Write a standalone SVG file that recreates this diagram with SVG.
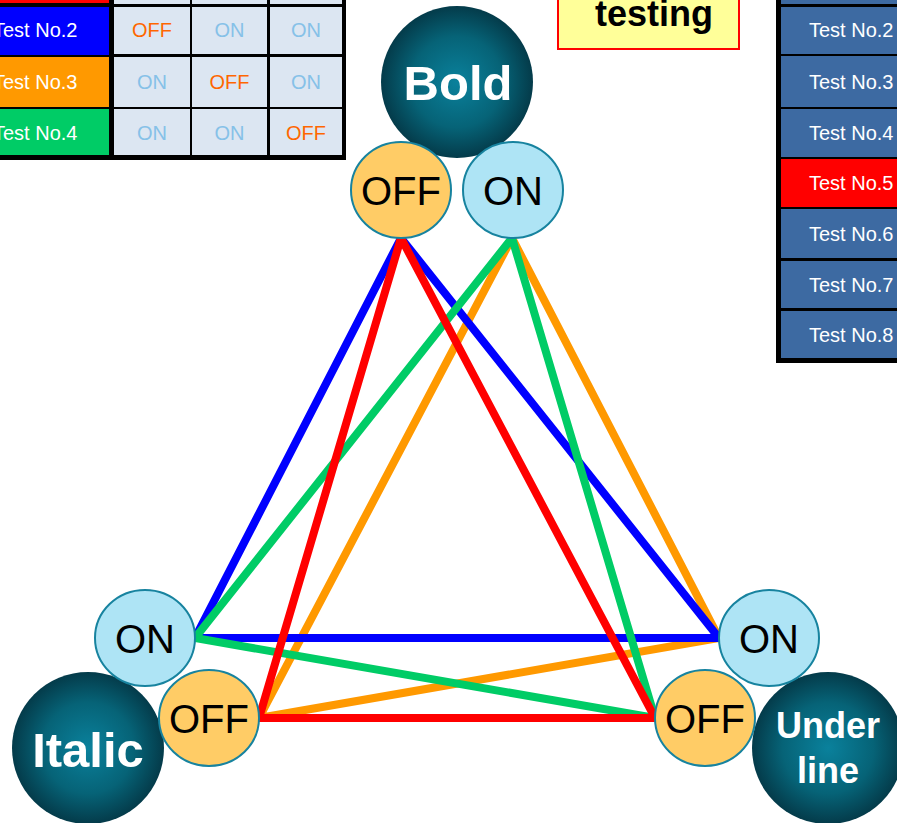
<svg xmlns="http://www.w3.org/2000/svg" width="897" height="823" viewBox="0 0 897 823">
<defs>
<radialGradient id="ball" cx="50%" cy="50%" r="50%">
<stop offset="0%" stop-color="#0a819c"/>
<stop offset="60%" stop-color="#066377"/>
<stop offset="100%" stop-color="#043b4a"/>
</radialGradient>
<style>
.t{font-family:"Liberation Sans",Arial,sans-serif;font-size:20px}
.w{fill:#ffffff}
.off{fill:#ff6600;text-anchor:middle}
.on{fill:#86c1e8;text-anchor:middle}
.cell{fill:#dce6f2}
.rc{fill:#3d6aa2}
.ball{fill:url(#ball)}
.bt{font-family:"Liberation Sans",Arial,sans-serif;font-weight:bold;fill:#ffffff;text-anchor:middle}
.offn{fill:#ffcc66;stroke:#17839f;stroke-width:2}
.onn{fill:#aee4f5;stroke:#17839f;stroke-width:2}
.nt{font-family:"Liberation Sans",Arial,sans-serif;font-size:40px;fill:#000000;text-anchor:middle}
.ln{fill:none;stroke-width:8;stroke-linejoin:miter}
</style>
</defs>
<rect width="897" height="823" fill="#ffffff"/>

<g id="left-table">
<rect x="-50" y="-60" width="396" height="220" fill="#000000"/>
<rect x="-40" y="-45" width="149" height="48" fill="#ff0000"/>
<rect x="-40" y="7" width="149" height="48" fill="#0000ff"/>
<rect x="-40" y="57" width="149" height="50" fill="#ff9900"/>
<rect x="-40" y="109" width="149" height="46" fill="#00cc66"/>
<rect class="cell" x="114" y="-44" width="76" height="48"/>
<rect class="cell" x="192" y="-44" width="75" height="48"/>
<rect class="cell" x="270" y="-44" width="72" height="48"/>
<rect class="cell" x="114" y="7" width="76" height="47"/>
<rect class="cell" x="192" y="7" width="75" height="47"/>
<rect class="cell" x="270" y="7" width="72" height="47"/>
<rect class="cell" x="114" y="57" width="76" height="50"/>
<rect class="cell" x="192" y="57" width="75" height="50"/>
<rect class="cell" x="270" y="57" width="72" height="50"/>
<rect class="cell" x="114" y="109" width="76" height="46"/>
<rect class="cell" x="192" y="109" width="75" height="46"/>
<rect class="cell" x="270" y="109" width="72" height="46"/>
<text class="t w" x="-7" y="37">Test No.2</text>
<text class="t w" x="-7" y="89">Test No.3</text>
<text class="t w" x="-7" y="140">Test No.4</text>
<text class="t off" x="152" y="37">OFF</text>
<text class="t on" x="229.5" y="37">ON</text>
<text class="t on" x="306" y="37">ON</text>
<text class="t on" x="152" y="89">ON</text>
<text class="t off" x="229.5" y="89">OFF</text>
<text class="t on" x="306" y="89">ON</text>
<text class="t on" x="152" y="140">ON</text>
<text class="t on" x="229.5" y="140">ON</text>
<text class="t off" x="306" y="140">OFF</text>
</g>

<g id="title-box">
<rect x="558" y="-40" width="181" height="89" fill="#ffff99" stroke="#ff0000" stroke-width="2"/>
<text x="654" y="26" font-family="Liberation Sans,Arial,sans-serif" font-weight="bold" font-size="36" fill="#000000" text-anchor="middle">testing</text>
</g>

<g id="right-table">
<rect x="776" y="-60" width="140" height="423" fill="#000000"/>
<rect class="rc" x="781" y="-45" width="130" height="49"/>
<rect class="rc" x="781" y="7" width="130" height="47"/>
<rect class="rc" x="781" y="56" width="130" height="51"/>
<rect class="rc" x="781" y="109" width="130" height="48"/>
<rect x="781" y="159" width="130" height="48" fill="#ff0000"/>
<rect class="rc" x="781" y="209" width="130" height="49"/>
<rect class="rc" x="781" y="261" width="130" height="47"/>
<rect class="rc" x="781" y="311" width="130" height="47"/>
<text class="t w" x="809" y="37">Test No.2</text>
<text class="t w" x="809" y="89">Test No.3</text>
<text class="t w" x="809" y="140">Test No.4</text>
<text class="t w" x="809" y="190">Test No.5</text>
<text class="t w" x="809" y="241">Test No.6</text>
<text class="t w" x="809" y="292">Test No.7</text>
<text class="t w" x="809" y="342">Test No.8</text>
</g>

<g id="connectors">
<polygon class="ln" stroke="#ff9900" points="512,238 259,718 719,638"/>
<polygon class="ln" stroke="#0000ff" points="401,238 195,638 719,638"/>
<polygon class="ln" stroke="#00cc66" points="512,238 195,638 655,718"/>
<polygon class="ln" stroke="#ff0000" points="401,238 259,718 655,718"/>
</g>

<g id="bold">
<circle class="ball" cx="457" cy="82" r="76"/>
<text class="bt" x="458" y="100" font-size="49">Bold</text>
</g>
<g id="italic">
<circle class="ball" cx="88" cy="748" r="76"/>
<text class="bt" x="88" y="767" font-size="49">Italic</text>
</g>
<g id="underline">
<circle class="ball" cx="828" cy="748" r="76"/>
<text class="bt" x="828" y="738" font-size="36">Under</text>
<text class="bt" x="828" y="783" font-size="36">line</text>
</g>

<g id="bold-off"><ellipse class="offn" cx="401" cy="190" rx="50" ry="48"/><text class="nt" x="401" y="205">OFF</text></g>
<g id="bold-on"><ellipse class="onn" cx="513" cy="190" rx="50" ry="48"/><text class="nt" x="513" y="205">ON</text></g>
<g id="italic-on"><ellipse class="onn" cx="145" cy="638" rx="50" ry="48"/><text class="nt" x="145" y="653">ON</text></g>
<g id="italic-off"><ellipse class="offn" cx="209" cy="718" rx="50" ry="48"/><text class="nt" x="209" y="733">OFF</text></g>
<g id="underline-on"><ellipse class="onn" cx="769" cy="638" rx="50" ry="48"/><text class="nt" x="769" y="653">ON</text></g>
<g id="underline-off"><ellipse class="offn" cx="705" cy="718" rx="50" ry="48"/><text class="nt" x="705" y="733">OFF</text></g>
</svg>
